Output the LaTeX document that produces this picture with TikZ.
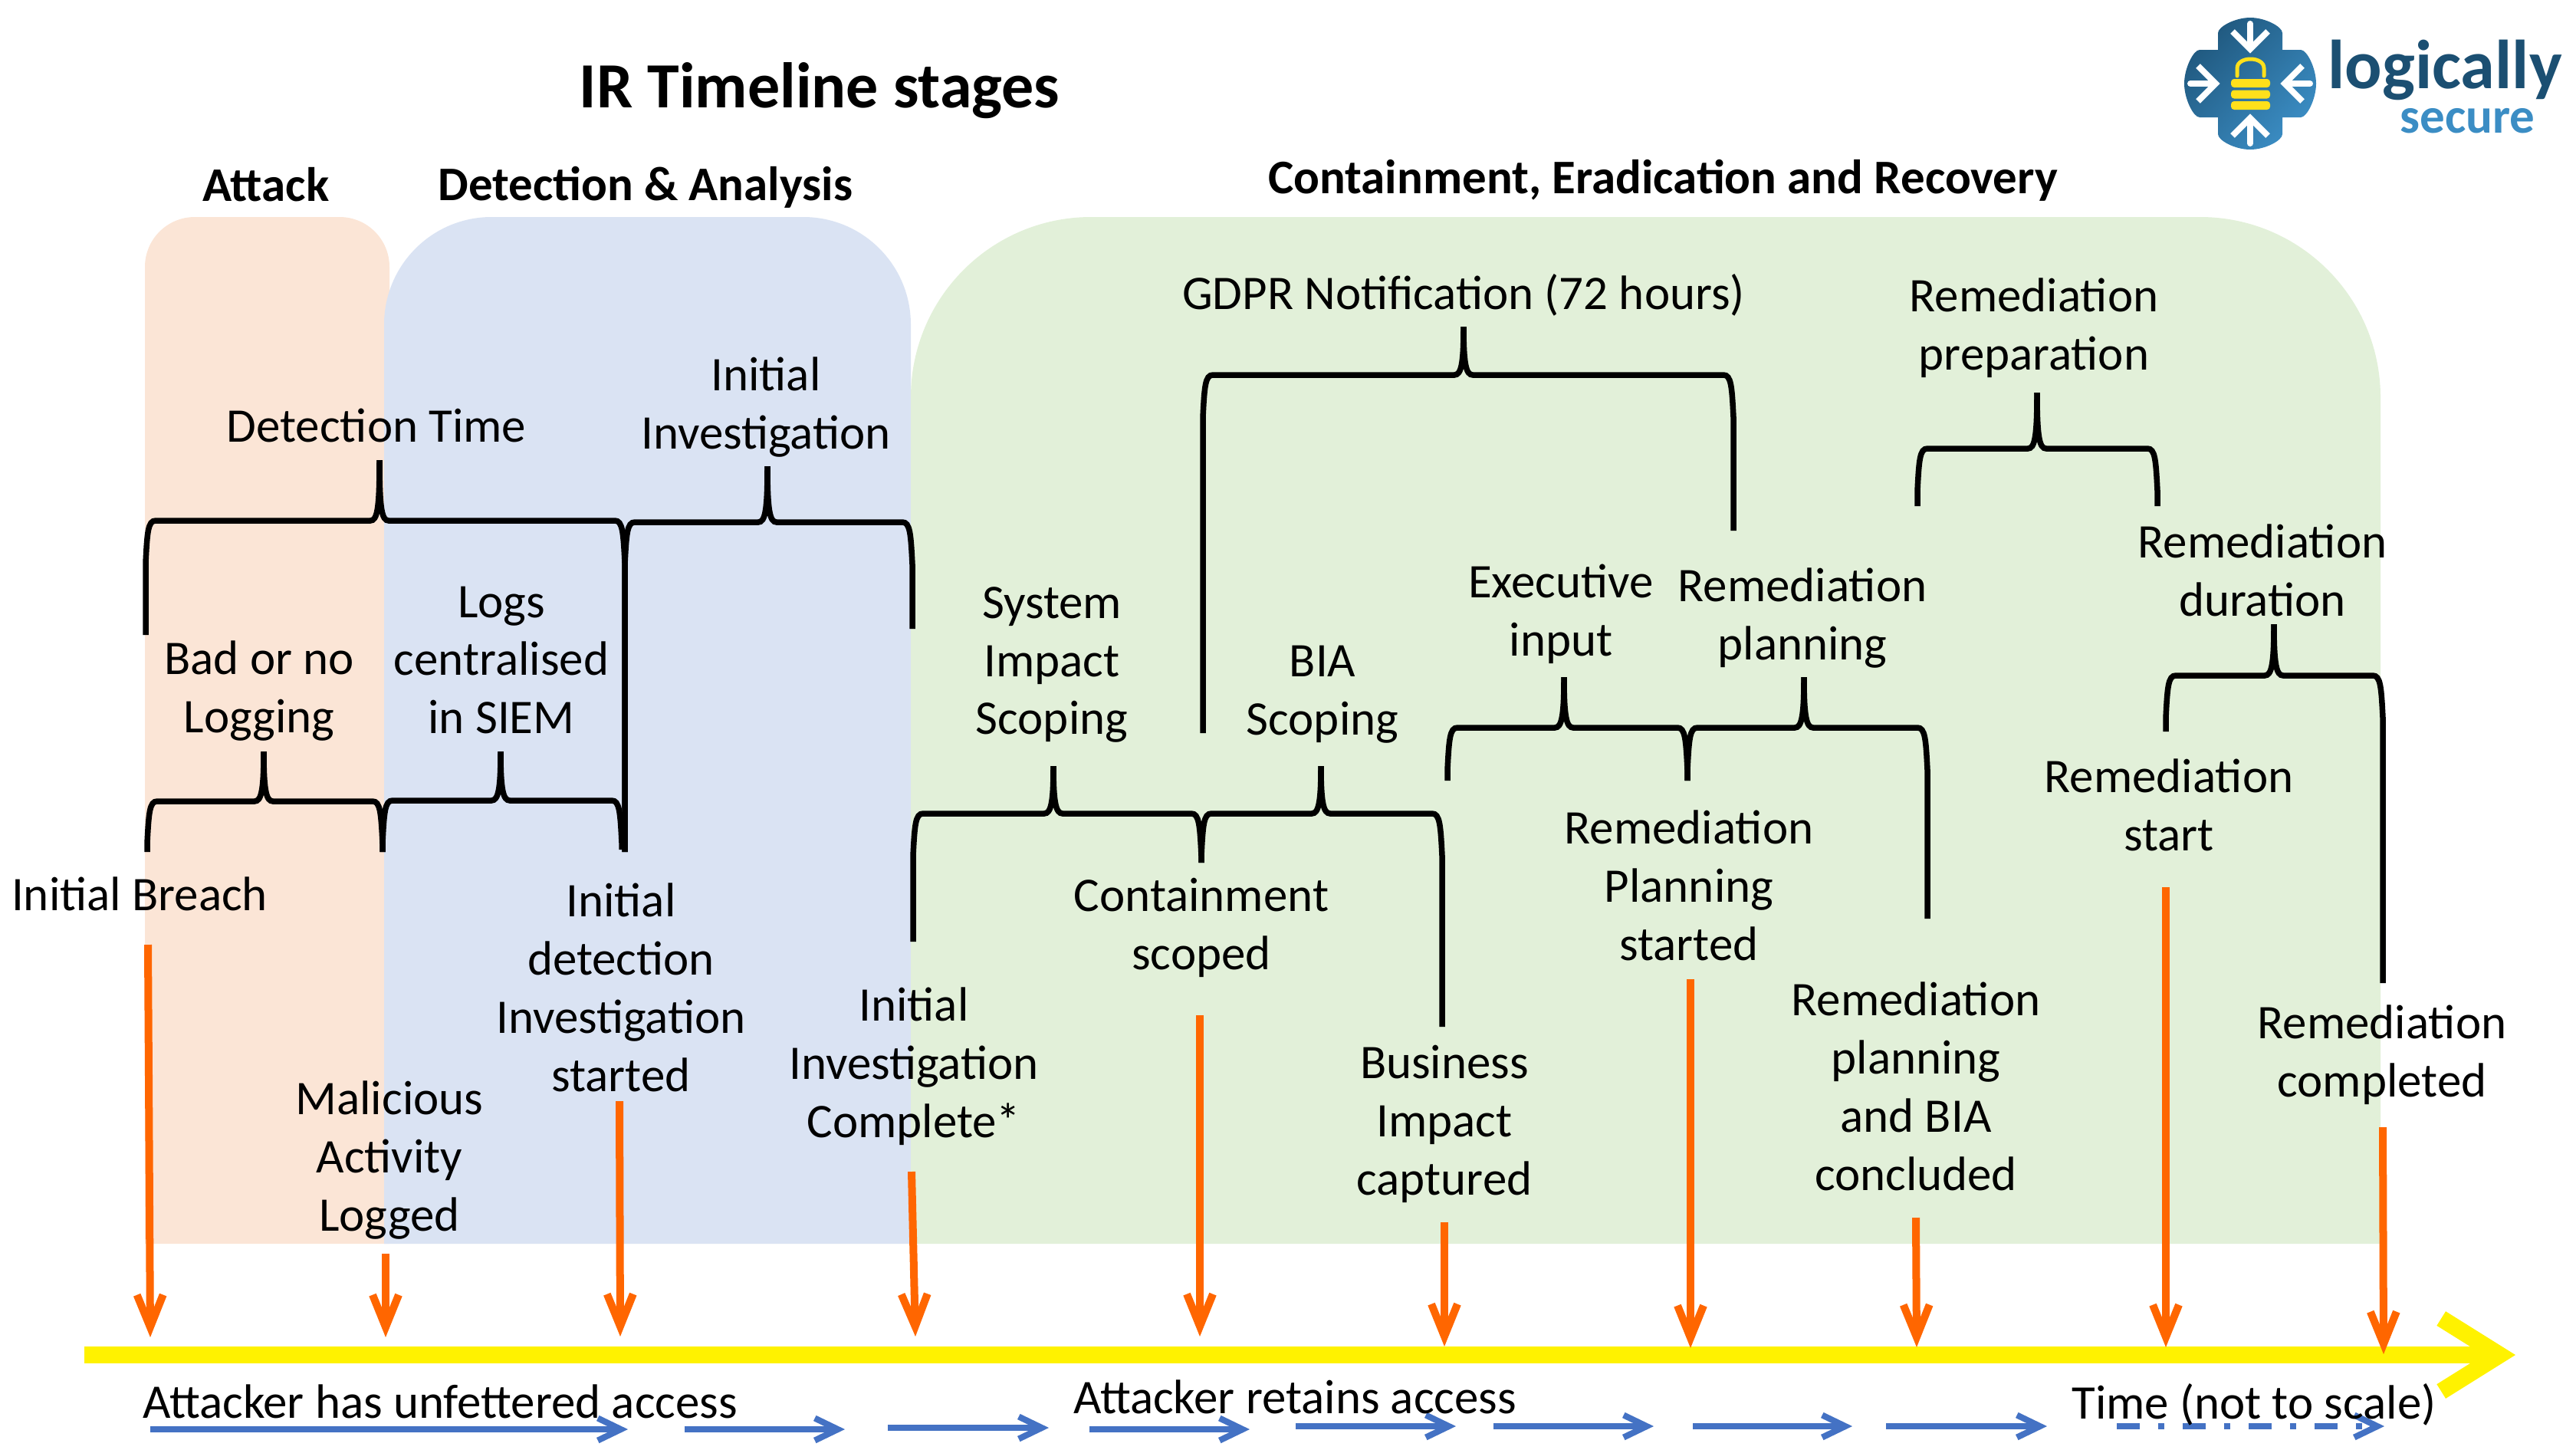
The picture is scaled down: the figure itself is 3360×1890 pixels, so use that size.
\documentclass[tikz,border=0pt]{standalone}
\usepackage{fontspec}
\setmainfont{Carlito}
\usetikzlibrary{arrows.meta}
\definecolor{attackcol}{HTML}{FBE5D6}
\definecolor{detectcol}{HTML}{DAE3F3}
\definecolor{containcol}{HTML}{E2F0D9}
\definecolor{hitcol}{HTML}{FF6600}
\definecolor{accesscol}{HTML}{4472C4}
\definecolor{logodark}{HTML}{1B4F72}
\definecolor{logolight}{HTML}{3B8DC4}
\definecolor{lockcol}{HTML}{FFE01B}
\tikzset{
  label/.style={align=center,inner sep=0pt,font=\fontsize{17.9}{21.6}\selectfont},
  head/.style={inner sep=0pt,font=\fontsize{17.9}{21.6}\selectfont\bfseries},
  bracket/.style={line width=0.075cm,black},
  hit/.style={line width=0.1cm,hitcol,-{Straight Barb[length=0.42cm,width=0.34cm,line width=0.1cm]}},
  access/.style={line width=0.08cm,accesscol,-{Straight Barb[length=0.3cm,width=0.29cm,line width=0.08cm]}},
}
% l, r, peak x, bar y, peak y, left foot, right foot
\newcommand{\stagebrace}[7]{
  \draw[bracket] (#1,#6) -- (#1,#4+55) .. controls (#1+2,#4+15) and (#1+3,#4) .. (#1+13,#4)
    -- (#3-12,#4) .. controls (#3-3,#4) and (#3,#4-15) .. (#3,#5);
  \draw[bracket] (#2,#7) -- (#2,#4+55) .. controls (#2-2,#4+15) and (#2-3,#4) .. (#2-13,#4)
    -- (#3+12,#4) .. controls (#3+3,#4) and (#3,#4-15) .. (#3,#5);
}
\begin{document}
\begin{tikzpicture}[x=0.01cm,y=-0.01cm]
  \useasboundingbox (0,0) rectangle (3360,1890);

  \fill[attackcol,rounded corners=0.65cm] (189,1622) -- (189,283) -- (508,283) [sharp corners] -- (508,1622) -- cycle;
  \fill[detectcol,rounded corners=1.4cm] (501,1622) -- (501,283) -- (1188,283) [sharp corners] -- (1188,1622) -- cycle;
  \fill[containcol,rounded corners=2.35cm] (1188,1622) -- (1188,283) -- (3105,283) [sharp corners] -- (3105,1622) -- cycle;

  \node[inner sep=0pt,font=\fontsize{23.9}{29}\selectfont\bfseries] (title) at (1069,118) {IR Timeline stages};
  \node[head] (attack) at (347,241) {Attack};
  \node[head] (detect) at (842,244) {Detection \& Analysis};
  \node[head] (contain) at (2169,235) {Containment, Eradication and Recovery};

  \coordinate (linestart) at (110,1767);
  \coordinate (lineend) at (3281,1767);
  \draw[line width=0.22cm,yellow,-{Straight Barb[length=0.76cm,width=0.95cm,line width=0.22cm]}] (linestart) -- (lineend);

  \stagebrace{190}{815}{495}{679}{600}{828}{1111}
  \stagebrace{815}{1190}{1001}{681}{608}{1111}{820}
  \stagebrace{192}{499}{344}{1045}{980}{1111}{1111}
  \stagebrace{499}{811}{653}{1044}{980}{1111}{1108}
  \stagebrace{1569}{2261}{1909}{489}{426}{956}{692}
  \stagebrace{2501}{2814}{2657}{585}{512}{660}{660}
  \stagebrace{1191}{1567}{1374}{1061}{999}{1228}{1125}
  \stagebrace{1567}{1881}{1723}{1061}{999}{1125}{1339}
  \stagebrace{1888}{2201}{2040}{949}{883}{1018}{1018}
  \stagebrace{2201}{2514}{2353}{949}{883}{1018}{1198}
  \stagebrace{2825}{3108}{2966}{881}{814}{954}{1282}

  \foreach \n/\xs/\ys/\xe/\ye in {1/193/1232/196/1744,2/503/1635/503/1744,3/808/1436/809/1743,
      4/1189/1528/1194/1743,5/1565/1324/1565/1743,6/1884/1594/1884/1756,7/2205/1277/2205/1758,
      8/2499/1588/2500/1757,9/2825/1157/2825/1757,10/3108/1470/3109/1766}{
    \coordinate (from\n) at (\xs,\ys);
    \coordinate (tip\n) at (\xe,\ye);
    \draw[hit] (from\n) -- (tip\n);
  }

  \foreach \n/\xs/\xe/\ya in {1/196/819/1864,2/893/1102/1864,3/1158/1368/1862,4/1421/1630/1864,
      5/1690/1899/1860,6/1948/2157/1860,7/2208/2416/1860,8/2460/2670/1860}{
    \coordinate (run\n) at (\xs,\ya);
    \coordinate (stop\n) at (\xe,\ya);
    \draw[access] (run\n) -- (stop\n);
  }
  \coordinate (run9) at (2761,1860);
  \coordinate (stop9) at (3110,1860);
  \draw[access,dash pattern=on 0.3cm off 0.24cm on 0.08cm off 0.24cm] (run9) -- (stop9);

  \node[label] (dettime) at (491,555) {Detection Time};
  \node[label] (initinv) at (999,531) {Initial\\Investigation};
  \node[label] (siem) at (654,861) {Logs\\centralised\\in SIEM};
  \node[label] (badlog) at (338,901) {Bad or no\\Logging};
  \node[label] (breach) at (182,1166) {Initial Breach};
  \node[label] (started) at (810,1288) {Initial\\detection\\Investigation\\started};
  \node[label] (logged) at (508,1513) {Malicious\\Activity\\Logged};
  \node[label] (complete) at (1192,1391) {Initial\\Investigation\\Complete*};
  \node[label] (sysimpact) at (1372,867) {System\\Impact\\Scoping};
  \node[label] (bia) at (1725,906) {BIA\\Scoping};
  \node[label] (scoped) at (1567,1210) {Containment\\scoped};
  \node[label] (captured) at (1884,1466) {Business\\Impact\\captured};
  \node[label] (gdpr) at (1909,385) {GDPR Notification (72 hours)};
  \node[label] (prep) at (2653,428) {Remediation\\preparation};
  \node[label] (exec) at (2036,801) {Executive\\input};
  \node[label] (planning) at (2351,806) {Remediation\\planning};
  \node[label] (duration) at (2951,744) {Remediation\\duration};
  \node[label] (planstart) at (2203,1155) {Remediation\\Planning\\started};
  \node[label] (concluded) at (2499,1417) {Remediation\\planning\\and BIA\\concluded};
  \node[label] (remstart) at (2829,1050) {Remediation\\start};
  \node[label] (remdone) at (3107,1376) {Remediation\\completed};
  \node[label] (unfettered) at (574,1828) {Attacker has unfettered access};
  \node[label] (retains) at (1689,1822) {Attacker retains access};
  \node[label] (timescale) at (2940,1832) {Time (not to scale)};

  \begin{scope}[shift={(2935,109)}]
    \path[left color=logodark!85!logolight,right color=logolight,shading angle=45]
      (-42,-44) -- (-42,-66) .. controls (-42,-74) and (-20,-86) .. (0,-86) .. controls (20,-86) and (42,-74) .. (42,-66)
      -- (42,-44) -- (66,-44) .. controls (74,-44) and (86,-20) .. (86,0) .. controls (86,20) and (74,44) .. (66,44)
      -- (42,44) -- (42,66) .. controls (42,74) and (20,86) .. (0,86) .. controls (-20,86) and (-42,74) .. (-42,66)
      -- (-42,44) -- (-66,44) .. controls (-74,44) and (-86,20) .. (-86,0) .. controls (-86,-20) and (-74,-44) .. (-66,-44)
      -- cycle;
    \foreach \a in {0,90,180,270}{
      \draw[white,line width=0.08cm,rotate=\a] (-23,-68) -- (0,-45) -- (23,-68);
      \draw[white,line width=0.08cm,line cap=round,rotate=\a] (0,-78) -- (0,-50);
    }
    \foreach \y in {0,14.5,29}{
      \fill[lockcol,rounded corners=0.04cm] (-25,-6+\y) rectangle (26,5+\y);
    }
    \draw[lockcol,line width=0.05cm,line cap=round] (-17,-10) -- (-17,-20) .. controls (-17,-36) and (18,-36) .. (18,-20) -- (18,-10);
  \end{scope}
  \node[inner sep=0pt,anchor=base west,text=logodark,font=\fontsize{25.7}{30}\selectfont\bfseries] (logically) at (3036,115) {logically};
  \node[inner sep=0pt,anchor=base west,text=logolight,font=\fontsize{18.5}{23}\selectfont\bfseries] (secure) at (3130,173) {secure};
\end{tikzpicture}
\end{document}
